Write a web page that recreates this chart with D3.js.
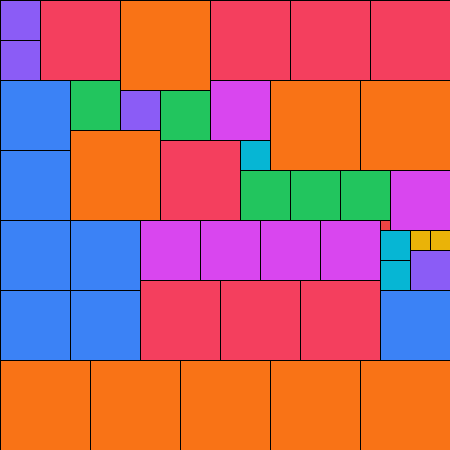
<!DOCTYPE html>
<html>
<head>
<meta charset="utf-8">
<script src="https://cdn.jsdelivr.net/npm/d3@7"></script>
<style>
  html, body { margin: 0; padding: 0; background: #fff; }
  svg { display: block; }
</style>
</head>
<body>
<script>
var width = 450, height = 450;
var gridUnits = 45;

// partridge packing: n squares of side n, n = 1..9
var sideValues = [1, 2, 3, 4, 5, 6, 7, 8, 9];
var sideColors = ["#ef4444", "#eab308", "#06b6d4", "#8b5cf6", "#22c55e",
                  "#d946ef", "#3b82f6", "#f43f5e", "#f97316"];

// each square: side, column, row (grid units)
var squareSide = [9, 9, 9, 9, 9, 9, 9, 9, 9,
                  8, 8, 8, 8, 8, 8, 8, 8,
                  7, 7, 7, 7, 7, 7, 7,
                  6, 6, 6, 6, 6, 6,
                  5, 5, 5, 5, 5,
                  4, 4, 4, 4,
                  3, 3, 3,
                  2, 2,
                  1];
var squareCol = [12, 27, 36, 7, 0, 9, 18, 27, 36,
                 4, 21, 29, 37, 16, 14, 22, 30,
                 0, 0, 0, 0, 7, 7, 38,
                 21, 39, 14, 20, 26, 32,
                 7, 16, 24, 29, 34,
                 0, 0, 12, 41,
                 24, 38, 38,
                 41, 43,
                 38];
var squareRow = [0, 8, 8, 13, 36, 36, 36, 36, 36,
                 0, 0, 0, 0, 14, 28, 28, 28,
                 8, 15, 22, 29, 22, 29, 29,
                 8, 17, 22, 22, 22, 22,
                 8, 9, 17, 17, 17,
                 0, 4, 9, 25,
                 14, 23, 26,
                 23, 23,
                 22];

var squares = squareSide.map(function(s, i){
    return {side: s, col: squareCol[i], row: squareRow[i]};
});

var x = d3.scaleLinear().domain([0, gridUnits]).range([0, width]);
var y = d3.scaleLinear().domain([0, gridUnits]).range([0, height]);
var color = d3.scaleOrdinal().domain(sideValues).range(sideColors);

var svgContainer = d3.select("body").append("svg")
                     .attr("width", width)
                     .attr("height", height)
                     .attr("shape-rendering", "crispEdges");

svgContainer.selectAll("rect")
            .data(squares)
            .enter().append("rect")
            .attr("x", function(d){ return x(d.col); })
            .attr("y", function(d){ return y(d.row); })
            .attr("width", function(d){ return x(d.side) - x(0); })
            .attr("height", function(d){ return y(d.side) - y(0); })
            .style("fill", function(d){ return color(d.side); })
            .style("stroke", "#000")
            .style("stroke-width", 1);
</script>
</body>
</html>
